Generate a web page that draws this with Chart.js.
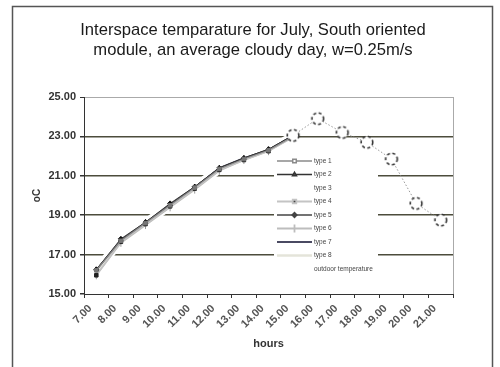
<!DOCTYPE html>
<html>
<head>
<meta charset="utf-8">
<script src="https://cdn.jsdelivr.net/npm/chart.js@4.4.0/dist/chart.umd.min.js"></script>
<style>
  html, body { margin: 0; padding: 0; background: #fff; }
</style>
</head>
<body>
<canvas id="tempChart" width="500" height="367"></canvas>
<script>
// ================= DATA =================
const hours = ["7.00", "8.00", "9.00", "10.00", "11.00", "12.00", "13.00", "14.00",
  "15.00", "16.00", "17.00", "18.00", "19.00", "20.00", "21.00"];

const type1 = [16.20, 17.70, 18.60, 19.50, 20.40, 21.35, 21.85, 22.30, 23.00];
const type2 = [16.25, 17.75, 18.65, 19.55, 20.45, 21.40, 21.90, 22.35, 23.05];
const type3 = [16.20, 17.70, 18.60, 19.50, 20.40, 21.35, 21.85, 22.30, 23.00];
const type4 = [15.95, 17.65, 18.55, 19.45, 20.35, 21.30, 21.80, 22.25, 23.00];
const type5 = [16.25, 17.80, 18.65, 19.60, 20.45, 21.40, 21.90, 22.35, 23.05];
const type6 = [15.95, 17.60, 18.50, 19.40, 20.30, 21.25, 21.80, 22.25, 22.95];
const type7 = [16.20, 17.75, 18.60, 19.55, 20.40, 21.40, 21.90, 22.30, 23.05];
const type8 = [16.15, 17.60, 18.50, 19.45, 20.30, 21.30, 21.80, 22.25, 23.00];
const outdoor = [null, null, null, null, null, null, null, null,
  23.05, 23.90, 23.20, 22.70, 21.85, 19.60, 18.75];

const yTicks = [15, 17, 19, 21, 23, 25];

// ================= MARKER FOR OUTDOOR =================
function dashedCircle() {
  const c = document.createElement("canvas");
  c.width = 16;
  c.height = 16;
  const g = c.getContext("2d");
  g.beginPath();
  g.arc(8, 8, 5.8, 0, Math.PI * 2);
  g.fillStyle = "#fff";
  g.fill();
  g.setLineDash([3, 2.5]);
  g.lineWidth = 1.6;
  g.strokeStyle = "#333";
  g.stroke();
  return c;
}

function series(label, data, color, width, style, pColor, extra) {
  return Object.assign({
    label: label,
    data: data,
    borderColor: color,
    borderWidth: width,
    pointStyle: style || false,
    pointRadius: style ? 2.5 : 0,
    pointBackgroundColor: pColor || color,
    pointBorderColor: pColor || color,
    pointBorderWidth: 1,
    tension: 0,
    fill: false
  }, extra || {});
}

const datasets = [
  series("type 1", type1, "#8a8a8a", 1.2, "rect", "#777"),
  series("type 2", type2, "#333", 1, "triangle", "#111"),
  series("type 3", type3, "#fff", 9, false, null, { order: 10 }),
  series("type 4", type4, "#c4c4c4", 1.5, "rect", "#222"),
  series("type 5", type5, "#444", 1, "rectRot", "#111"),
  series("type 6", type6, "#bdbdbd", 1.5, "line", "#999", { pointRotation: 90, pointRadius: 4 }),
  series("type 7", type7, "#4a4a62", 1.5, false),
  series("type 8", type8, "#e4e4da", 2, false),
  series("outdoor temperature", outdoor, "#9a9a9a", 1, dashedCircle(), null,
    { borderDash: [1.5, 2], order: -1, spanGaps: false })
];

// ================= PLUGINS =================
const framePlugin = {
  id: "frame",
  beforeDraw(chart) {
    const c = chart.ctx;
    c.save();
    c.fillStyle = "#fff";
    c.fillRect(0, 0, chart.width, chart.height);
    c.strokeStyle = "#555";
    c.lineWidth = 1.5;
    c.strokeRect(12.5, 6.5, 480, 420);
    c.fillStyle = "#1a1a1a";
    c.font = "16.6px 'Liberation Sans', Arial, sans-serif";
    c.textAlign = "center";
    c.textBaseline = "middle";
    c.fillText("Interspace temparature for July, South oriented", 253, 30);
    c.fillText("module, an average cloudy day, w=0.25m/s", 253, 50);
    c.restore();
  },
  beforeDatasetsDraw(chart) {
    const a = chart.chartArea;
    const c = chart.ctx;
    c.save();
    c.strokeStyle = "#aaa";
    c.lineWidth = 1;
    c.beginPath();
    c.moveTo(a.right + 0.5, a.top);
    c.lineTo(a.right + 0.5, a.bottom);
    c.stroke();
    c.restore();
  }
};

const legendBox = {
  id: "legendBox",
  afterDatasetsDraw(chart) {
    const c = chart.ctx;
    const x0 = 274, y0 = 151, rowH = 13.5;
    c.save();
    c.fillStyle = "#fff";
    c.fillRect(x0, y0, 104, 127);
    chart.data.datasets.forEach((ds, i) => {
      const y = y0 + 10 + i * rowH;
      if (ds.borderColor !== "#fff" && !ds.borderDash) {
        c.strokeStyle = ds.borderColor;
        c.lineWidth = i === 6 ? 2.2 : ds.borderWidth + 0.3;
        c.beginPath();
        c.moveTo(x0 + 3, y);
        c.lineTo(x0 + 38, y);
        c.stroke();
        if (ds.pointStyle) {
          Chart.helpers.drawPoint(c, {
            pointStyle: ds.pointStyle,
            radius: ds.pointRadius,
            rotation: ds.pointRotation || 0,
            borderWidth: 1,
            backgroundColor: ds.pointBackgroundColor,
            borderColor: ds.pointBorderColor
          }, x0 + 20.5, y);
        }
      }
      c.fillStyle = "#444";
      c.font = "6.5px 'Liberation Sans', Arial, sans-serif";
      c.textAlign = "left";
      c.textBaseline = "middle";
      c.fillText(ds.label, x0 + 40, y);
    });
    c.restore();
  }
};

// ================= CHART =================
const ctx = document.getElementById("tempChart").getContext("2d");

const tempChart = new Chart(ctx, {
  type: "line",
  data: { labels: hours, datasets: datasets },
  plugins: [framePlugin, legendBox],
  options: {
    responsive: false,
    animation: false,
    devicePixelRatio: 1,
    layout: { padding: { left: 12, right: 47, top: 97, bottom: 0 } },
    plugins: { legend: { display: false }, tooltip: { enabled: false } },
    scales: {
      x: {
        offset: true,
        grid: { offset: true, drawOnChartArea: false, drawTicks: true, tickLength: 4, tickColor: "#333" },
        border: { color: "#333", width: 1 },
        ticks: {
          autoSkip: false, minRotation: 45, maxRotation: 45, labelOffset: -6, padding: 4,
          color: "#555", font: { family: "'Liberation Sans', Arial", size: 11, weight: "bold" }
        },
        title: {
          display: true, text: "hours", color: "#333",
          font: { family: "'Liberation Sans', Arial", size: 11, weight: "bold" },
          padding: { top: 0, bottom: 16 }
        },
        afterFit: s => { s.height = 73; }
      },
      y: {
        min: 15,
        max: 25,
        afterBuildTicks: s => { s.ticks = yTicks.map(v => ({ value: v })); },
        ticks: {
          callback: v => Number(v).toFixed(2), padding: 4, color: "#333",
          font: { family: "'Liberation Sans', Arial", size: 11, weight: "bold" }
        },
        grid: {
          color: g => g.tick.value === 25 ? "#aaa" : (g.tick.value === 15 ? "rgba(0,0,0,0)" : "#4d4d3c"),
          lineWidth: g => g.tick.value === 25 ? 1 : 1.5,
          tickLength: 4,
          tickColor: "#333"
        },
        border: { color: "#333", width: 1 },
        title: {
          display: true, text: "oC", color: "#333",
          font: { family: "'Liberation Sans', Arial", size: 10, weight: "bold" },
          padding: { top: 19, bottom: 0 }
        },
        afterFit: s => { s.width = 72; }
      }
    }
  }
});
</script>
</body>
</html>
